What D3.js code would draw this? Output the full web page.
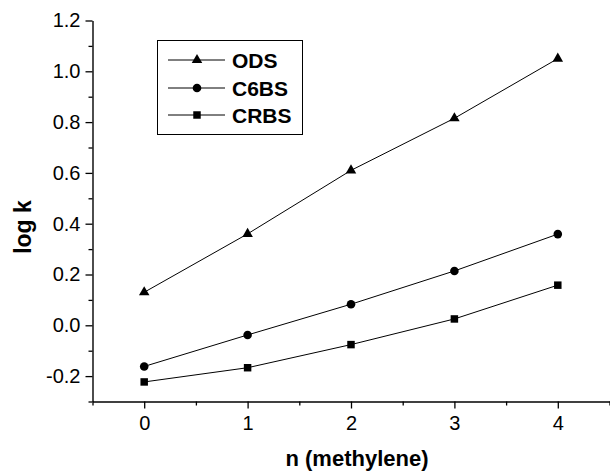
<!DOCTYPE html>
<html>
<head>
<meta charset="utf-8">
<script src="https://cdn.jsdelivr.net/npm/d3@7"></script>
<style>
  body { margin: 0; background: #fff; }
  svg { display: block; }
  text { font-family: "Liberation Sans", Arial, sans-serif; fill: #000; }
</style>
</head>
<body>
<script>
// SVG size
var width = 610,
    height = 472;

// data
const nValues = [0, 1, 2, 3, 4];
const odsValues = [0.13, 0.36, 0.61, 0.815, 1.05];
const c6bsValues = [-0.162, -0.038, 0.083, 0.214, 0.359];
const crbsValues = [-0.223, -0.167, -0.076, 0.025, 0.158];

const seriesNames = ['ODS', 'C6BS', 'CRBS'];
const seriesValues = [odsValues, c6bsValues, crbsValues];
const seriesSymbols = [d3.symbolTriangle, d3.symbolCircle, d3.symbolSquare];
const symbolSizes = [48, 58, 56];

const xTicks = [0, 1, 2, 3, 4];
const xMinor = [-0.5, 0.5, 1.5, 2.5, 3.5, 4.5];
const yTicks = [-0.2, 0.0, 0.2, 0.4, 0.6, 0.8, 1.0, 1.2];
const yMinor = [-0.3, -0.1, 0.1, 0.3, 0.5, 0.7, 0.9, 1.1];

var svg = d3.select('body').append('svg')
    .attr('width', width)
    .attr('height', height);

var x = d3.scaleLinear().domain([-0.5, 4.5]).range([92.5, 609.5]);
var y = d3.scaleLinear().domain([-0.3, 1.2]).range([401.5, 20.5]);

// plain hyphen for negatives, like the original
var fmtY = function(d) { return d3.format('.1f')(d).replace('\u2212', '-'); };

/******* axes ********/
var gx = svg.append('g').attr('transform', 'translate(0,' + y(-0.3) + ')');
gx.call(d3.axisBottom(x).tickValues(xTicks).tickSize(7).tickSizeOuter(0)
    .tickPadding(7).tickFormat(d3.format('d')));
gx.append('g').call(d3.axisBottom(x).tickValues(xMinor).tickSize(4).tickFormat(''))
    .select('.domain').remove();

var gy = svg.append('g').attr('transform', 'translate(' + x(-0.5) + ',0)');
gy.call(d3.axisLeft(y).tickValues(yTicks).tickSize(7).tickSizeOuter(0)
    .tickPadding(5).tickFormat(fmtY));
gy.append('g').call(d3.axisLeft(y).tickValues(yMinor).tickSize(4).tickFormat(''))
    .select('.domain').remove();

svg.selectAll('.domain').attr('stroke', '#000').attr('stroke-width', 1.4);
svg.selectAll('.tick line').attr('stroke', '#000').attr('stroke-width', 1.3);
svg.selectAll('.tick text')
    .style('font-family', '"Liberation Sans", Arial, sans-serif')
    .style('font-size', '20px')
    .attr('fill', '#000');

// axis titles
svg.append('text')
    .attr('x', 357)
    .attr('y', 466)
    .attr('text-anchor', 'middle')
    .style('font-size', '22px')
    .style('font-weight', 'bold')
    .text('n (methylene)');

svg.append('text')
    .attr('transform', 'translate(31,227) rotate(-90)')
    .attr('text-anchor', 'middle')
    .style('font-size', '23px')
    .style('font-weight', 'bold')
    .text('log k');

/******* series ********/
var line = d3.line()
    .x(function(d) { return x(d[0]); })
    .y(function(d) { return y(d[1]); });

seriesValues.forEach(function(vals, s) {
    var pts = nValues.map(function(n, i) { return [n, vals[i]]; });
    svg.append('path')
        .datum(pts)
        .attr('fill', 'none')
        .attr('stroke', '#000')
        .attr('stroke-width', 1)
        .attr('d', line);
    svg.selectAll('.m' + s)
        .data(pts)
        .enter()
        .append('path')
        .attr('class', 'm' + s)
        .attr('fill', '#000')
        .attr('transform', function(d) { return 'translate(' + x(d[0]) + ',' + y(d[1]) + ')'; })
        .attr('d', d3.symbol().type(seriesSymbols[s]).size(symbolSizes[s]));
});

/******* legend ********/
var legend = svg.append('g');
legend.append('rect')
    .attr('x', 157.5)
    .attr('y', 40.5)
    .attr('width', 145)
    .attr('height', 94)
    .attr('fill', '#fff')
    .attr('stroke', '#000')
    .attr('stroke-width', 1);

var rowY = [60, 88, 115];
var rows = legend.selectAll('.row')
    .data(seriesNames)
    .enter()
    .append('g')
    .attr('class', 'row')
    .attr('transform', function(d, i) { return 'translate(0,' + rowY[i] + ')'; });

rows.append('line')
    .attr('x1', 168)
    .attr('x2', 225)
    .attr('stroke', '#000')
    .attr('stroke-width', 1);

rows.append('path')
    .attr('transform', 'translate(197,0)')
    .attr('fill', '#000')
    .attr('d', function(d, i) { return d3.symbol().type(seriesSymbols[i]).size(symbolSizes[i])(); });

rows.append('text')
    .attr('x', 232)
    .attr('y', 7.5)
    .style('font-size', '21px')
    .style('font-weight', 'bold')
    .text(function(d) { return d; });
</script>
</body>
</html>
